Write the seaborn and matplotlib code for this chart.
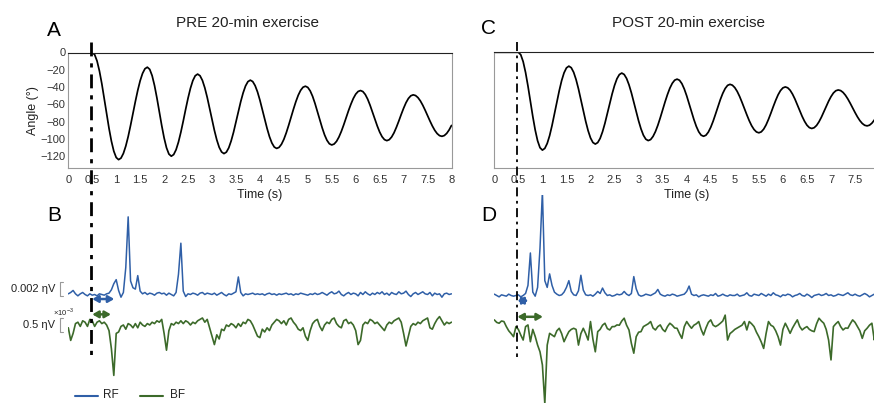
import numpy as np
import matplotlib
matplotlib.use("Agg")
import matplotlib.pyplot as plt
from matplotlib.lines import Line2D
import seaborn as sns

W, H = 874, 403
DT = 0.05

TIME_TICKS = [0, 0.5, 1, 1.5, 2, 2.5, 3, 3.5, 4, 4.5, 5, 5.5, 6, 6.5, 7, 7.5, 8]
ANGLE_TICKS = [0, -20, -40, -60, -80, -100, -120]

# knee angle (deg), 0 to 8 s every 0.05 s
ANGLE_PRE = [
    0, 0, 0, 0, 0, 0, 0, 0, 0, 0,
    0, -2.5, -9.8, -21.4, -36.2, -53.2, -70.8, -87.8, -102.6, -114.2,
    -121.5, -124.0, -122.2, -116.8, -108.3, -97.3, -84.3, -70.5, -56.7, -43.8,
    -32.7, -24.2, -18.8, -17.0, -19.5, -26.8, -38.2, -52.6, -68.5, -84.4,
    -98.8, -110.2, -117.5, -120.0, -118.1, -112.5, -103.6, -92.2, -79.3, -65.7,
    -52.8, -41.4, -32.5, -26.9, -25.0, -26.9, -32.3, -40.9, -51.9, -64.5,
    -77.5, -90.1, -101.1, -109.7, -115.1, -117.0, -115.3, -110.3, -102.3, -92.2,
    -80.5, -68.5, -56.8, -46.7, -38.7, -33.7, -32.0, -33.6, -38.3, -45.6,
    -55.1, -65.9, -77.1, -87.9, -97.4, -104.7, -109.4, -111.0, -109.8, -106.2,
    -100.5, -93.0, -84.3, -75.0, -65.7, -57.0, -49.5, -43.8, -40.2, -39.0,
    -40.4, -44.4, -50.7, -58.9, -68.2, -77.8, -87.1, -95.3, -101.6, -105.6,
    -107.0, -105.9, -102.8, -97.8, -91.3, -83.7, -75.5, -67.3, -59.8, -53.2,
    -48.2, -45.1, -44.0, -45.2, -48.6, -54.0, -61.0, -68.9, -77.1, -85.0,
    -92.0, -97.4, -100.8, -102.0, -100.9, -97.8, -92.9, -86.5, -79.3, -71.7,
    -64.5, -58.1, -53.2, -50.1, -49.0, -49.8, -52.2, -56.0, -61.0, -66.8,
    -73.0, -79.2, -85.0, -90.0, -93.8, -96.2, -97.0, -96.1, -93.6, -89.6,
    -84.4,
]
ANGLE_POST = [
    0, 0, 0, 0, 0, 0, 0, 0, 0, 0,
    0, -2.8, -10.8, -23.3, -39.0, -56.5, -74.0, -89.7, -102.2, -110.2,
    -113.0, -111.0, -105.3, -96.3, -84.6, -71.4, -57.6, -44.4, -32.7, -23.7,
    -18.0, -16.0, -17.8, -23.1, -31.5, -42.3, -54.6, -67.4, -79.7, -90.5,
    -98.9, -104.2, -106.0, -104.3, -99.5, -91.8, -82.0, -70.8, -59.2, -48.0,
    -38.2, -30.5, -25.7, -24.0, -25.6, -30.2, -37.5, -46.8, -57.5, -68.5,
    -79.2, -88.5, -95.8, -100.4, -102.0, -100.8, -97.2, -91.6, -84.3, -75.7,
    -66.5, -57.3, -48.8, -41.4, -35.8, -32.2, -31.0, -32.3, -36.2, -42.4,
    -50.3, -59.3, -68.7, -77.7, -85.6, -91.8, -95.7, -97.0, -95.8, -92.2,
    -86.6, -79.5, -71.3, -62.7, -54.5, -47.4, -41.8, -38.2, -37.0, -38.0,
    -40.8, -45.2, -51.0, -57.8, -65.0, -72.2, -79.0, -84.8, -89.2, -92.0,
    -93.0, -91.9, -88.8, -83.9, -77.5, -70.3, -62.7, -55.5, -49.1, -44.2,
    -41.1, -40.0, -41.0, -43.8, -48.3, -54.0, -60.6, -67.4, -74.0, -79.7,
    -84.2, -87.0, -88.0, -87.1, -84.5, -80.3, -75.0, -68.9, -62.6, -56.5,
    -51.2, -47.0, -44.4, -43.5, -44.2, -46.3, -49.6, -53.9, -58.9, -64.3,
    -69.6, -74.6, -78.9, -82.2, -84.3, -85.0, -84.2, -81.9, -78.3, -73.6,
    -68.3,
]

# EMG envelopes (x10^-3), 0 to 8 s every 0.05 s
RF_PRE = [
    0.1, 0.3, 0.6, 0.1, -0.2, 0.1, 0.3, 0.0, -0.2, 0.1,
    -0.1, 0.0, -0.2, 0.1, 0.0, -0.1, 0.1, 0.2, 0.7, 1.6,
    2.2, 0.6, -0.4, 0.3, 4.0, 11.5, 2.0, 1.0, 0.8, 2.8,
    0.5, 0.1, 0.3, 0.0, 0.2, 0.1, -0.1, 0.2, 0.3, 0.1,
    0.2, -0.1, 0.2, 0.0, -0.2, 0.3, 3.0, 7.6, 0.5, -0.3,
    0.1, 0.0, 0.2, 0.1, -0.1, 0.2, 0.3, 0.0, 0.2, 0.1,
    0.0, 0.2, -0.1, 0.1, 0.3, 0.0, -0.2, 0.1, 0.0, 0.2,
    0.4, 2.6, 0.3, -0.2, 0.1, 0.0, 0.1, 0.2, 0.0, 0.1,
    0.0, 0.1, -0.1, 0.1, 0.2, 0.0, 0.1, -0.1, 0.1, 0.0,
    0.1, 0.2, 0.0, 0.1, -0.1, 0.1, 0.0, 0.2, 0.1, 0.0,
    -0.1, 0.1, 0.0, 0.2, 0.0, 0.1, 0.3, 0.1, -0.1, 0.2,
    0.4, 0.1, 0.2, 0.5, 0.0, -0.2, 0.1, 0.3, 0.0, 0.2,
    0.1, -0.2, 0.3, 0.0, 0.4, 0.1, -0.1, 0.2, 0.0, 0.3,
    0.1, 0.4, 0.0, 0.2, -0.1, 0.3, 0.1, 0.0, 0.4, 0.1,
    0.2, 0.5, 0.0, -0.3, 0.1, 0.3, 0.0, 0.2, 0.4, 0.1,
    0.0, 0.3, -0.2, 0.2, 0.0, 0.1, -0.4, 0.1, 0.2, 0.0,
    0.1,
]
BF_PRE = [
    -0.10, -0.55, -0.30, 0.05, 0.10, -0.05, 0.15, 0.10, -0.05, 0.20,
    0.15, -0.05, 0.10, 0.15, 0.05, 0.10, 0.00, -0.20, -0.85, -1.80,
    -0.30, -0.25, -0.05, 0.00, -0.15, 0.05, 0.00, -0.10, 0.05, -0.10,
    0.10, 0.00, -0.05, 0.05, 0.00, 0.10, 0.05, 0.15, 0.10, 0.20,
    -0.30, -0.90, -0.20, 0.05, 0.00, 0.10, 0.05, 0.15, 0.05, 0.15,
    0.10, 0.00, 0.10, 0.05, 0.15, 0.20, 0.25, 0.10, 0.20, -0.10,
    -0.40, -0.70, -0.35, -0.50, -0.15, -0.20, 0.00, -0.05, 0.05, 0.00,
    -0.10, 0.05, -0.05, 0.10, 0.05, 0.20, 0.15, 0.00, -0.20, -0.40,
    -0.45, -0.15, -0.25, -0.10, -0.20, 0.00, 0.10, 0.20, 0.15, 0.05,
    0.15, 0.00, 0.20, 0.25, 0.10, 0.00, -0.15, -0.20, -0.10, -0.40,
    -0.55, -0.20, 0.05, 0.15, 0.20, -0.05, -0.20, 0.00, 0.10, 0.05,
    0.20, 0.25, 0.05, -0.05, -0.10, 0.15, 0.20, 0.05, 0.10, 0.00,
    -0.20, -0.70, -0.55, 0.00, 0.10, 0.05, 0.20, 0.15, 0.05, 0.10,
    0.00, -0.10, -0.20, 0.00, 0.10, 0.05, 0.15, 0.20, 0.25, 0.10,
    -0.30, -0.75, -0.40, -0.05, 0.05, 0.00, 0.10, 0.05, 0.15, 0.20,
    0.25, -0.10, -0.15, 0.05, 0.20, 0.30, 0.15, 0.00, 0.10, 0.05,
    0.10,
]
RF_POST = [
    0.2, 0.0, -0.2, 0.1, 0.0, -0.1, 0.2, 0.0, -0.1, 0.0,
    0.1, -0.2, 0.0, 0.3, 1.5, 6.3, 0.5, -0.1, 1.2, 7.0,
    15.4, 2.2, 1.2, 3.2, 1.5, 0.5, 0.2, 0.0, 0.1, 0.5,
    1.2, 2.2, 0.6, 0.1, 0.0, 0.7, 3.0, 0.8, 0.1, 0.0,
    0.1, -0.1, 0.2, 0.6, 0.3, 1.1, 0.4, 0.0, 0.1, -0.1,
    0.0, 0.2, 0.1, 0.2, 0.6, 0.2, 0.0, 0.3, 2.8, 1.0,
    0.1, -0.1, 0.0, 0.2, 0.1, 0.0, 0.2, 0.4, 0.9, 0.2,
    0.0, -0.1, 0.1, 0.0, 0.2, 0.1, -0.1, 0.0, 0.1, 0.2,
    0.6, 1.4, 0.2, 0.0, 0.1, -0.2, 0.0, 0.1, 0.0, -0.1,
    0.1, 0.0, 0.3, -0.1, 0.0, 0.2, 0.0, -0.1, 0.1, 0.0,
    0.0, 0.2, -0.1, 0.0, 0.1, 0.4, 0.0, -0.1, 0.2, 0.1,
    0.0, 0.3, 0.1, -0.1, 0.2, 0.0, 0.4, 0.1, 0.0, -0.2,
    0.1, 0.0, 0.2, 0.1, -0.2, 0.0, 0.1, 0.3, 0.0, -0.1,
    0.2, 0.0, -0.3, 0.0, 0.1, 0.2, 0.0, 0.1, 0.3, 0.0,
    0.1, -0.1, 0.0, 0.2, 0.1, 0.0, 0.2, 0.4, 0.1, 0.0,
    0.2, 0.0, -0.1, 0.1, 0.3, 0.1, -0.2, 0.0, 0.2, 0.1,
    0.0,
]
BF_POST = [
    0.29, 0.20, 0.17, 0.25, 0.23, 0.05, -0.10, -0.20, -0.31, 0.05,
    -0.05, -0.25, -0.43, 0.05, 0.11, -0.49, -0.05, -0.30, -0.61, -0.85,
    -1.32, -2.70, -0.61, -0.19, -0.25, -0.31, -0.10, -0.01, -0.20, -0.49,
    -0.30, -0.13, -0.05, -0.01, -0.05, -0.61, -0.20, -0.01, -0.20, -0.43,
    0.23, -0.40, -0.85, -0.13, -0.05, 0.10, 0.17, -0.02, -0.07, 0.05,
    0.05, 0.11, 0.10, 0.25, 0.35, 0.10, -0.07, -0.55, -0.90, -0.31,
    -0.15, -0.13, 0.05, 0.10, 0.15, 0.23, 0.00, -0.07, 0.05, 0.11,
    -0.05, -0.13, 0.05, 0.17, 0.10, 0.00, -0.01, -0.20, -0.37, 0.05,
    0.23, 0.10, -0.01, 0.10, 0.15, 0.23, -0.05, -0.25, 0.00, 0.20,
    0.29, 0.10, 0.05, 0.10, 0.17, 0.25, 0.46, -0.43, -0.20, -0.13,
    -0.05, 0.00, 0.05, 0.10, 0.23, -0.07, 0.23, 0.15, 0.05, -0.15,
    -0.31, -0.50, -0.73, -0.20, 0.23, 0.10, 0.05, -0.10, -0.31, -0.61,
    -0.05, 0.17, 0.00, -0.19, 0.00, 0.15, 0.29, 0.05, -0.07, 0.00,
    0.05, -0.05, -0.10, -0.13, 0.15, 0.35, 0.25, 0.17, -0.05, -0.43,
    -1.14, 0.05, 0.15, 0.23, 0.05, -0.07, 0.00, -0.01, 0.15, 0.29,
    0.20, 0.05, -0.10, -0.37, -0.10, -0.01, 0.10, 0.17, -0.43, 0.10,
    0.15,
]

# onset and latency markers (s)
ONSET = 0.5
RF_LATENCY = {"pre": 0.96, "post": 0.71}
BF_LATENCY = {"pre": 0.89, "post": 1.01}
SCALE_RF = 2.0   # x10^-3 -> "0.002"
SCALE_BF = 0.5   # x10^-3

BLUE = "#2f5fa7"
GREEN = "#3c6a2a"
TXT = "#222222"

sns.set_style("white")
plt.rcParams["font.family"] = ["Liberation Sans", "DejaVu Sans"]
plt.rcParams["mathtext.fontset"] = "custom"
plt.rcParams["mathtext.rm"] = "Liberation Sans"

fig = plt.figure(figsize=(W / 100, H / 100), dpi=100)


def box(left, top, width, height):
    return [left / W, 1 - (top + height) / H, width / W, height / H]


def angle_panel(rect, y, with_labels, ticks):
    ax = fig.add_axes(rect)
    t = np.arange(len(y)) * DT
    sns.lineplot(x=t, y=y, ax=ax, color="black", lw=1.25)
    ax.set_xlim(0, 8)
    ax.set_ylim(-134, 0)
    ax.set_xticks(ticks)
    ax.set_xticklabels([f"{v:g}" for v in ticks])
    ax.set_yticks(ANGLE_TICKS)
    ax.tick_params(direction="in", length=3, width=0.6, color="#777",
                   labelsize=8, labelcolor="#333")
    ax.tick_params(axis="x", pad=5)
    ax.tick_params(axis="y", pad=2, labelleft=with_labels)
    for s in ax.spines.values():
        s.set_color("#999")
        s.set_linewidth(0.8)
    ax.spines["top"].set_color("#222")
    ax.set_xlabel("Time (s)", fontsize=9, color=TXT, labelpad=3)
    if with_labels:
        ax.set_ylabel("Angle (°)", fontsize=9, color=TXT, labelpad=1)
    else:
        ax.set_ylabel("")
    return ax


def emg_panel(rect, rf, bf, rf_base_px, bf_base_px, top_px):
    ax_rf = fig.add_axes(rect)
    ax_bf = fig.add_axes(rect)
    t = np.arange(len(rf)) * DT
    # px per unit: 6.75 for RF, 28 for BF
    ax_rf.set_ylim(-(H - rf_base_px) / 6.75, (rf_base_px - top_px) / 6.75)
    ax_bf.set_ylim(-(H - bf_base_px) / 28, (bf_base_px - top_px) / 28)
    sns.lineplot(x=t, y=rf, ax=ax_rf, color=BLUE, lw=1.1)
    sns.lineplot(x=t, y=bf, ax=ax_bf, color=GREEN, lw=1.2)
    for ax in (ax_rf, ax_bf):
        ax.set_xlim(0, 8)
        ax.axis("off")
    return ax_rf, ax_bf


def arrow(ax, t0, t1, y, color):
    ax.annotate("", xy=(t1, y), xytext=(t0, y),
                arrowprops=dict(arrowstyle="<|-|>,head_length=0.35,head_width=0.2",
                                color=color, lw=1.8, mutation_scale=10,
                                shrinkA=0, shrinkB=0))


ax_a = angle_panel(box(68.3, 52.5, 383.2, 115.8), ANGLE_PRE, True, TIME_TICKS)
ax_c = angle_panel(box(494.3, 52.3, 384.8, 116), ANGLE_POST, False, TIME_TICKS[:-1])

rf_b, bf_b = emg_panel(box(68.3, 195, 383.2, 208), RF_PRE, BF_PRE, 294.5, 325, 195)
rf_d, bf_d = emg_panel(box(494.3, 195, 384.8, 208), RF_POST, BF_POST, 295.5, 328, 195)

arrow(rf_b, ONSET, RF_LATENCY["pre"], -0.67, BLUE)
arrow(bf_b, ONSET, BF_LATENCY["pre"], 0.38, GREEN)
arrow(rf_d, ONSET - 0.02, RF_LATENCY["post"], -0.77, BLUE)
arrow(bf_d, ONSET - 0.02, BF_LATENCY["post"], 0.40, GREEN)

# scale bars in panel B
xb, dx = -0.173, 0.07
rf_b.plot([xb + dx, xb, xb, xb + dx], [-0.2, -0.2, SCALE_RF - 0.2, SCALE_RF - 0.2],
          color="#999", lw=0.8, clip_on=False)
rf_b.text(-0.28, SCALE_RF / 2 - 0.2, "0.002 ηV", ha="right", va="center",
          fontsize=8, color=TXT)
bf_b.plot([xb + dx, xb, xb, xb + dx], [-SCALE_BF / 2, -SCALE_BF / 2, SCALE_BF / 2, SCALE_BF / 2],
          color="#999", lw=0.8, clip_on=False)
bf_b.text(-0.28, 0, "0.5 ηV", ha="right", va="center", fontsize=8, color=TXT)
bf_b.text(-0.32, 0.46, r"$\times10^{-3}$", ha="left", va="center", fontsize=5.5, color=TXT)

# stimulus onset lines crossing angle and EMG panels
for x, lw in ((91.3, 2.0), (517.3, 1.3)):
    fig.add_artist(Line2D([x / W, x / W], [1 - 42 / H, 1 - 357 / H],
                          transform=fig.transFigure, color="black", lw=lw,
                          linestyle=(0, (5, 2.5, 1.5, 2.5)), zorder=10))

# titles and panel letters
fig.text(247.5 / W, 1 - 23 / H, "PRE 20-min exercise", ha="center", va="center",
         fontsize=11, color=TXT)
fig.text(689 / W, 1 - 23 / H, "POST 20-min exercise", ha="center", va="center",
         fontsize=11, color=TXT)
for letter, x, y in (("A", 54, 30), ("C", 489, 29), ("B", 54, 216), ("D", 489, 216)):
    fig.text(x / W, 1 - y / H, letter, ha="center", va="center", fontsize=15, color="black")

# legend
for x0, x1, c, lab, xt in ((75, 98, BLUE, "RF", 103), (140, 163, GREEN, "BF", 170)):
    fig.add_artist(Line2D([x0 / W, x1 / W], [1 - 396 / H, 1 - 396 / H],
                          transform=fig.transFigure, color=c, lw=1.5))
    fig.text(xt / W, 1 - 395 / H, lab, ha="left", va="center", fontsize=8.5, color=TXT)

fig.savefig("out.png", dpi=100, facecolor="white")
